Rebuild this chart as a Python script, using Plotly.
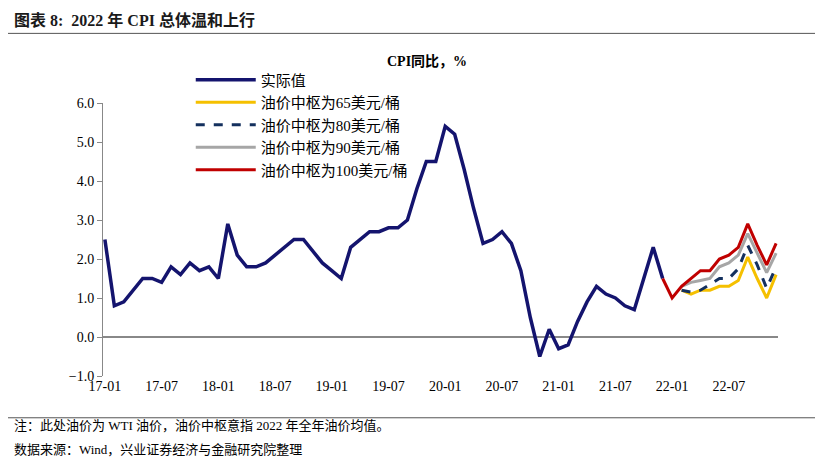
import plotly.graph_objects as go

months = [f"{y:02d}-{m:02d}" for y in range(17, 23) for m in range(1, 13)]

# 实际值 2017-01 .. 2021-12
actual = [2.5, 0.8, 0.9, 1.2, 1.5, 1.5, 1.4, 1.8, 1.6, 1.9, 1.7, 1.8,
          1.5, 2.9, 2.1, 1.8, 1.8, 1.9, 2.1, 2.3, 2.5, 2.5, 2.2, 1.9,
          1.7, 1.5, 2.3, 2.5, 2.7, 2.7, 2.8, 2.8, 3.0, 3.8, 4.5, 4.5,
          5.4, 5.2, 4.3, 3.3, 2.4, 2.5, 2.7, 2.4, 1.7, 0.5, -0.5, 0.2,
          -0.3, -0.2, 0.4, 0.9, 1.3, 1.1, 1.0, 0.8, 0.7, 1.5, 2.3, 1.5]

# 预测 2022-02 .. 2022-12
oil65 = [1.2, 1.1, 1.2, 1.2, 1.3, 1.3, 1.45, 2.05, 1.5, 1.0, 1.6]
oil80 = [1.2, 1.15, 1.2, 1.35, 1.5, 1.5, 1.75, 2.35, 1.85, 1.25, 1.8]
oil90 = [1.3, 1.4, 1.45, 1.5, 1.8, 1.9, 2.1, 2.65, 2.15, 1.65, 2.15]
oil100_head = [1.5, 1.0]  # 21-12, 22-01
oil100 = [1.3, 1.5, 1.7, 1.7, 2.0, 2.1, 2.3, 2.9, 2.35, 1.85, 2.4]

tick_labels = months[::6]
fx = months[-11:]
font = "Times New Roman, Liberation Serif, Noto Sans CJK SC"

fig = go.Figure()
fig.add_trace(go.Scatter(x=months[:60], y=actual, name="实际值", mode="lines",
                         line=dict(color="#14146e", width=3.5)))
fig.add_trace(go.Scatter(x=fx, y=oil65, name="油价中枢为65美元/桶", mode="lines",
                         line=dict(color="#f5c000", width=3)))
fig.add_trace(go.Scatter(x=fx, y=oil80, name="油价中枢为80美元/桶", mode="lines",
                         line=dict(color="#14305e", width=3, dash="dash")))
fig.add_trace(go.Scatter(x=fx, y=oil90, name="油价中枢为90美元/桶", mode="lines",
                         line=dict(color="#a6a6a6", width=3)))
fig.add_trace(go.Scatter(x=months[59:61] + fx, y=oil100_head + oil100, name="油价中枢为100美元/桶",
                         mode="lines", line=dict(color="#c00000", width=3)))

fig.update_layout(
    width=823, height=465,
    margin=dict(l=95, r=53, t=95, b=97, autoexpand=False),
    plot_bgcolor="white", paper_bgcolor="white",
    font=dict(family=font, size=14, color="black"),
    showlegend=True,
    legend=dict(orientation="h", x=0.13, y=1.145, xanchor="left", yanchor="top",
                entrywidth=290, traceorder="normal", font=dict(size=15),
                itemwidth=60, bgcolor="rgba(0,0,0,0)"),
    shapes=[
        dict(type="line", xref="paper", yref="paper", x0=-0.141, x1=1.09, y0=1.255, y1=1.255,
             line=dict(color="#555", width=1)),
        dict(type="line", xref="paper", yref="paper", x0=-0.141, x1=1.09, y0=-0.153, y1=-0.153,
             line=dict(color="#555", width=1)),
    ],
    annotations=[
        dict(text="<b>图表 8:  2022 年 CPI 总体温和上行</b>", xref="paper", yref="paper",
             x=-0.135, y=1.305, xanchor="left", yanchor="middle", showarrow=False,
             font=dict(size=16, color="#1a1a1a")),
        dict(text="<b>CPI同比，%</b>", xref="paper", yref="paper", x=0.48, y=1.187,
             showarrow=False, font=dict(size=14)),
        dict(text="注：此处油价为 WTI 油价，油价中枢意指 2022 年全年油价均值。", xref="paper",
             yref="paper", x=-0.135, y=-0.215, xanchor="left", showarrow=False, font=dict(size=13)),
        dict(text="数据来源：Wind，兴业证券经济与金融研究院整理", xref="paper",
             yref="paper", x=-0.135, y=-0.305, xanchor="left", showarrow=False, font=dict(size=13)),
    ],
)
fig.update_xaxes(type="category", categoryorder="array", categoryarray=months,
                 tickvals=tick_labels, ticktext=tick_labels, showgrid=False,
                 range=[-0.2, 71.2], tickfont=dict(size=14))
fig.update_yaxes(range=[-1, 6], dtick=1, tickformat=".1f", showgrid=False,
                 showline=True, linecolor="#888", ticks="outside", ticklen=5, tickcolor="#888",
                 zeroline=True, zerolinecolor="#888", zerolinewidth=1.5, tickfont=dict(size=14))

fig.write_html("out.html")
